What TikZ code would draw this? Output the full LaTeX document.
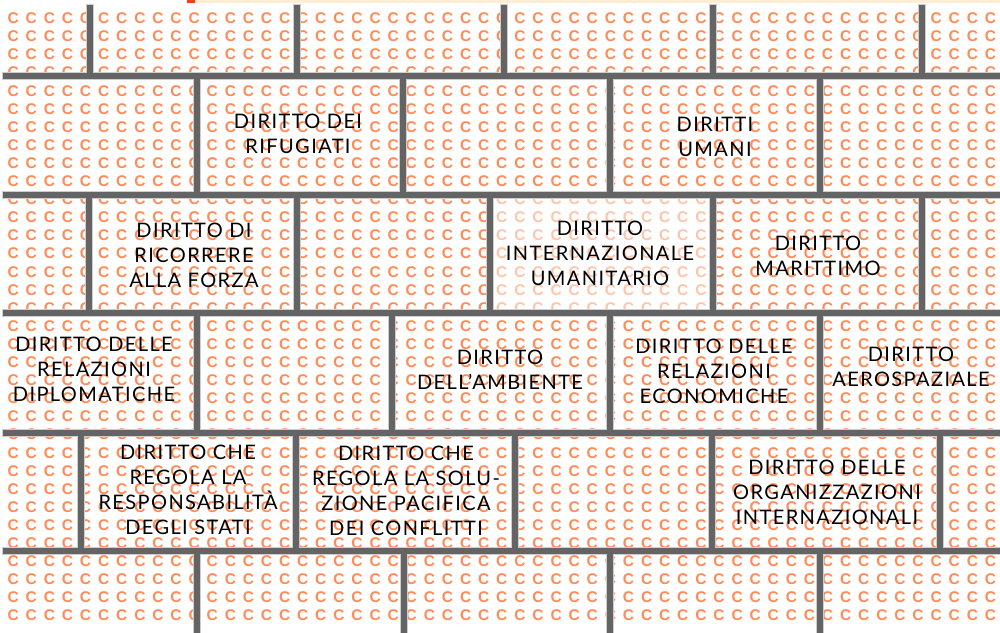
\documentclass[tikz,border=0pt]{standalone}
\usepackage{fontspec}
\setmainfont[LetterSpace=7]{Lato}
\newfontfamily\cfont{Liberation Sans}
\definecolor{corange}{RGB}{255,140,88}
\definecolor{mortarc}{RGB}{100,100,100}
\definecolor{haloc}{RGB}{205,205,205}
\definecolor{stripred}{RGB}{250,60,20}
\definecolor{strippeach}{RGB}{255,238,212}
\newcommand\cbox{\makebox[18.1pt]{C}}
\newcommand\ctenbox{\cbox\cbox\cbox\cbox\cbox\cbox\cbox\cbox\cbox\cbox}
\newcommand\crowtext{\ctenbox\ctenbox\ctenbox\ctenbox\ctenbox\cbox\cbox\cbox\cbox\cbox}
\newcommand\mortarpaths[1]{%
  \foreach \yy in {76,195,313,433,551} \draw[#1] (6,\yy) -- (1000,\yy);
  \foreach \xx in {90,297,504,713,922} \draw[#1] (\xx,8) -- (\xx,76);
  \foreach \xx in {197,403,610,820} \draw[#1] (\xx,76) -- (\xx,195);
  \foreach \xx in {89,297,490,713,922} \draw[#1] (\xx,195) -- (\xx,313);
  \foreach \xx in {197,392,610,820} \draw[#1] (\xx,313) -- (\xx,433);
  \foreach \xx in {81,296,515,712,940} \draw[#1] (\xx,433) -- (\xx,551);
  \foreach \xx in {197,404,610,820} \draw[#1] (\xx,551) -- (\xx,632);
}
\begin{document}
\begin{tikzpicture}[x=1pt,y=-1pt,
  mortar/.style={line width=6pt,draw=mortarc,line cap=rect},
  halo/.style={line width=8.5pt,draw=haloc,line cap=rect},
  lbl/.style={align=center,font=\fontsize{20}{25}\selectfont,text=black,inner sep=0pt},
  crow/.style={anchor=west,inner sep=0pt,font=\cfont\bfseries\fontsize{15.5}{15.5}\selectfont,text=corange}]
\useasboundingbox (0,0) rectangle (1000,632);
\fill[white] (0,0) rectangle (1000,632);
\fill[stripred] (187,0) rectangle (195,3);
\fill[strippeach] (195,0) rectangle (1000,3);
\foreach \j in {0,...,33} \node[crow] (row\j) at (3.95,{18.3+18.1*\j}) {\crowtext};
\fill[white,opacity=0.5] (490,195) rectangle (713,313);
\mortarpaths{halo}
\mortarpaths{mortar}
\node[lbl] (rifugiati) at (298,134) {DIRITTO DEI\\RIFUGIATI};
\node[lbl] (umani) at (715,137) {DIRITTI\\UMANI};
\node[lbl] (forza) at (194,255) {DIRITTO DI\\RICORRERE\\ALLA FORZA};
\node[lbl] (umanitario) at (600,253) {DIRITTO\\INTERNAZIONALE\\UMANITARIO};
\node[lbl] (marittimo) at (818,256) {DIRITTO\\MARITTIMO};
\node[lbl] (diplomatiche) at (94,369) {DIRITTO DELLE\\RELAZIONI\\DIPLOMATICHE};
\node[lbl] (ambiente) at (500,370) {DIRITTO\\DELL’AMBIENTE};
\node[lbl] (economiche) at (714,371) {DIRITTO DELLE\\RELAZIONI\\ECONOMICHE};
\node[lbl] (aerospaziale) at (911,367) {DIRITTO\\AEROSPAZIALE};
\node[lbl] (responsabilita) at (188,490) {DIRITTO CHE\\REGOLA LA\\RESPONSABILITÀ\\DEGLI STATI};
\node[lbl] (conflitti) at (406,491) {DIRITTO CHE\\REGOLA LA SOLU-\\ZIONE PACIFICA\\DEI CONFLITTI};
\node[lbl] (organizzazioni) at (827,492) {DIRITTO DELLE\\ORGANIZZAZIONI\\INTERNAZIONALI};
\end{tikzpicture}
\end{document}
